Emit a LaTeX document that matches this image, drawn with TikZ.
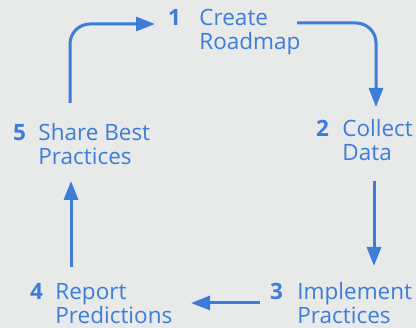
\documentclass[tikz,border=0pt]{standalone}
\usepackage{fontspec}
\setmainfont{Open Sans}
\usepackage{xcolor}
\usetikzlibrary{arrows.meta, calc, positioning}
\definecolor{cyclebg}{RGB}{232, 233, 233}
\definecolor{cycleblue}{RGB}{59, 125, 216}

\begin{document}
\begin{tikzpicture}[x=1pt, y=-1pt]%{{{
        \fill [cyclebg] (0, 0) rectangle (416, 328);
        \useasboundingbox (0, 0) rectangle (416, 328);

        \tikzstyle{num} = [inner sep=0, anchor=base west, text=cycleblue, font=\fontsize{22.5}{24}\selectfont\bfseries];
        \tikzstyle{lbl} = [inner sep=0, align=left, yshift=-24pt, text=cycleblue, font=\fontsize{22.5}{24}\selectfont];
        \tikzstyle{arr} = [draw=cycleblue, line width=3pt, rounded corners=20pt, -{Triangle[length=19pt, width=14pt]}];

        \node [num] (n1) at (168,  26) {1};
        \node [num] (n2) at (316, 137) {2};
        \node [num] (n3) at (270, 300) {3};
        \node [num] (n4) at ( 30, 300) {4};
        \node [num] (n5) at ( 13, 141) {5};

        \node [lbl, base right=18pt of n1] (t1) {Create\\Roadmap};
        \node [lbl, base right=13pt of n2] (t2) {Collect\\Data};
        \node [lbl, base right=14pt of n3] (t3) {Implement\\Practices};
        \node [lbl, base right=12pt of n4] (t4) {Report\\Predictions};
        \node [lbl, base right=12pt of n5] (t5) {Share Best\\Practices};

        \coordinate (a1s) at ($(n1.base west) + (129,  -3)$);
        \coordinate (a1e) at ($(n2.base west) + ( 60, -30)$);
        \coordinate (a2s) at ($(n2.base west) + ( 58,  44)$);
        \coordinate (a2e) at ($(n3.base west) + (104, -34)$);
        \coordinate (a3s) at ($(n3.base west) + (-10,   3)$);
        \coordinate (a3e) at ($(n4.base west) + (161,   3)$);
        \coordinate (a4s) at ($(n4.base west) + ( 41, -33)$);
        \coordinate (a4e) at ($(n5.base west) + ( 58,  40)$);
        \coordinate (a5s) at ($(n5.base west) + ( 57, -38)$);
        \coordinate (a5e) at ($(n1.base west) + (-13,  -2)$);

        \draw [arr] (a1s) -| (a1e);
        \draw [arr] (a2s) -- (a2e);
        \draw [arr] (a3s) -- (a3e);
        \draw [arr] (a4s) -- (a4e);
        \draw [arr] (a5s) |- (a5e);
    \end{tikzpicture}
\end{document}
